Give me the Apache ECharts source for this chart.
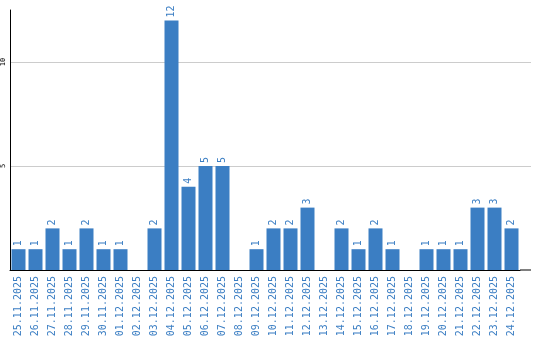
<!DOCTYPE html>
<html><head><meta charset="utf-8">
<script src="https://cdn.jsdelivr.net/npm/echarts@6/dist/echarts.min.js"></script>
<style>html,body{margin:0;padding:0;background:#fff}#c{width:540px;height:340px}</style>
</head><body><div id="c"></div>
<script>
const categories = ['25.11.2025','26.11.2025','27.11.2025','28.11.2025','29.11.2025','30.11.2025','01.12.2025','02.12.2025','03.12.2025','04.12.2025','05.12.2025','06.12.2025','07.12.2025','08.12.2025','09.12.2025','10.12.2025','11.12.2025','12.12.2025','13.12.2025','14.12.2025','15.12.2025','16.12.2025','17.12.2025','18.12.2025','19.12.2025','20.12.2025','21.12.2025','22.12.2025','23.12.2025','24.12.2025'];
const counts = [1,1,2,1,2,1,1,0,2,12,4,5,5,0,1,2,2,3,0,2,1,2,1,0,1,1,1,3,3,2];
const gridValues = [5,10];

const blue = '#3b7ec3';
const chart = echarts.init(document.getElementById('c'), null, {renderer:'canvas'});
chart.setOption({
  animation:false,
  grid:{left:10, top:10, width:510, height:260, containLabel:false},
  xAxis:{
    type:'category', data:categories,
    axisLine:{lineStyle:{color:'#000', width:1}},
    axisTick:{show:false},
    axisLabel:{interval:0, rotate:90, color:blue, fontFamily:'DejaVu Sans Mono', fontSize:10, margin:6}
  },
  yAxis:{
    type:'value', min:0, max:12.5, interval:5,
    axisLine:{show:true, lineStyle:{color:'#000', width:1}},
    axisTick:{show:false},
    axisLabel:{rotate:90, color:'#000', fontFamily:'DejaVu Sans Mono', fontSize:7, margin:3, showMinLabel:false, showMaxLabel:false},
    splitLine:{show:true, showMinLine:false, showMaxLine:false, lineStyle:{color:'#cccccc', width:1}}
  },
  series:[{
    type:'bar', data:counts, barWidth:14,
    itemStyle:{color:blue},
    label:{show:true, position:'top', rotate:90, align:'left', verticalAlign:'middle', distance:3,
      color:blue, fontFamily:'DejaVu Sans Mono', fontSize:10,
      formatter:p => p.value ? String(p.value) : ''}
  }]
});
// extend the plot frame to the right edge as in reference
const xEnd = chart.convertToPixel({gridIndex:0}, [categories.length-0.5, 0])[0] + 8.5;
const y0 = chart.convertToPixel({yAxisIndex:0}, 0);
const ext = [{shape:{x1:520,y1:y0,x2:531,y2:y0}, style:{stroke:'#000', lineWidth:1}}];
gridValues.forEach(v => {
  const y = Math.round(chart.convertToPixel({yAxisIndex:0}, v)) + 0.5;
  ext.push({shape:{x1:520,y1:y,x2:531,y2:y}, style:{stroke:'#cccccc', lineWidth:1}});
});
chart.setOption({graphic:ext.map(e => Object.assign({type:'line', silent:true}, e))});
</script></body></html>
